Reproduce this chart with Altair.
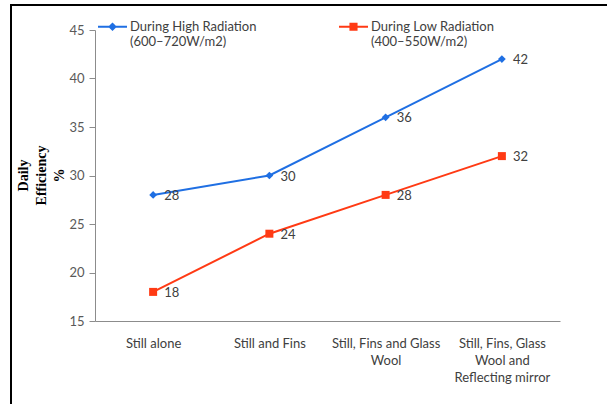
import altair as alt
import pandas as pd

categories = ["Still alone", "Still and Fins", "Still, Fins and Glass|Wool",
              "Still, Fins, Glass|Wool and|Reflecting mirror"]
series_names = ["During High Radiation|(600\u2013720W/m2)", "During Low Radiation|(400\u2013550W/m2)"]
high_values = [28, 30, 36, 42]
low_values = [18, 24, 28, 32]
y_ticks = [15, 20, 25, 30, 35, 40, 45]
colors = ["#1F6FE3", "#FF3A14"]

rows = []
for c, h, l in zip(categories, high_values, low_values):
    rows.append({"cat": c, "series": series_names[0], "value": h})
    rows.append({"cat": c, "series": series_names[1], "value": l})
df = pd.DataFrame(rows)

FONT = "Lato"

x = alt.X("cat:N", sort=categories, title=None,
          scale=alt.Scale(paddingOuter=0.5, paddingInner=0),
          axis=alt.Axis(labelExpr="split(datum.label, '|')", labelAngle=0,
                        ticks=False, labelPadding=16, labelFontSize=13,
                        labelColor="#404040", labelFont=FONT, labelLineHeight=17,
                        labelBaseline="top",
                        domainColor="#8c8c8c", domainWidth=1))
y = alt.Y("value:Q", scale=alt.Scale(domain=[15, 45], nice=False, zero=False),
          axis=alt.Axis(values=y_ticks, grid=False, tickSize=6, tickColor="#8c8c8c",
                        domainColor="#8c8c8c", labelFontSize=13, labelColor="#595959",
                        labelFont=FONT, labelPadding=5,
                        title=["Daily", "Efficiency", "%"], titleFont="Liberation Serif",
                        titleFontSize=14, titleFontWeight="bold", titleColor="#000000",
                        titleX=-72, titleY=145, titleAngle=-90, titleAlign="center",
                        titleBaseline="middle", titleLineHeight=18))

color_scale = alt.Scale(domain=series_names, range=colors)
legend = alt.Legend(title=None, labelExpr="split(datum.label, '|')")
color_enc = alt.Color("series:N", scale=color_scale, sort=series_names, legend=legend)

# legend glyphs: a short line with the marker in its middle
legend_shapes = ["M-1,-0.07H1V0.07H-1ZM0,-0.3L0.3,0L0,0.3L-0.3,0Z",
                 "M-1,-0.07H1V0.07H-1ZM-0.28,-0.28H0.28V0.28H-0.28Z"]

legend_src = alt.Chart(df).mark_point(filled=True, opacity=0).encode(
    x=x, y=y, color=color_enc,
    shape=alt.Shape("series:N", scale=alt.Scale(domain=series_names, range=legend_shapes),
                    legend=legend))

line = alt.Chart(df).mark_line(strokeWidth=2).encode(x=x, y=y, color=color_enc)

pts_high = alt.Chart(df).transform_filter(
    alt.datum.series == series_names[0]).mark_point(
    filled=True, opacity=1, shape="diamond", size=60).encode(x=x, y=y, color=color_enc)
pts_low = alt.Chart(df).transform_filter(
    alt.datum.series == series_names[1]).mark_point(
    filled=True, opacity=1, shape="square", size=64).encode(x=x, y=y, color=color_enc)

labels = alt.Chart(df).mark_text(align="left", baseline="middle", dx=11, dy=1,
                                 fontSize=13, color="#404040", font=FONT).encode(
    x=x, y=y, text="value:Q")

frame = alt.Chart(df).mark_rect(filled=False, stroke="#000000", strokeWidth=2).encode(
    x=alt.value(-84), x2=alt.value(600), y=alt.value(-25), y2=alt.value(500))

chart = alt.layer(legend_src, frame, line, pts_high, pts_low, labels).properties(
    width=465, height=291,
    padding={"left": 95, "top": 30, "right": 47, "bottom": 83},
    autosize=alt.AutoSizeParams(type="none"),
    background="white"
).configure_view(stroke=None).configure_legend(
    orient="none", legendX=3, legendY=-18, direction="horizontal",
    padding=0, labelFont=FONT, labelFontSize=13, labelColor="#404040",
    labelLimit=300, labelOffset=3, columnPadding=82,
    symbolSize=841, symbolOpacity=1, symbolStrokeWidth=0, labelBaseline="middle")

chart.save("out.html", embed_options={"renderer": "svg", "actions": False})
